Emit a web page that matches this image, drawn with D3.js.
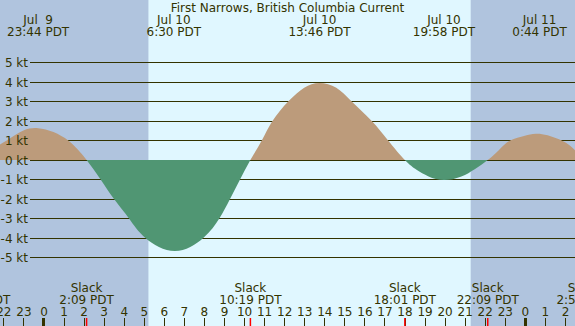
<!DOCTYPE html>
<html><head><meta charset="utf-8">
<script src="https://cdn.jsdelivr.net/npm/d3@7"></script>
<style>
html,body{margin:0;padding:0;background:#fff;}
svg{display:block;font-family:"DejaVu Sans",sans-serif;}
text{white-space:pre;}
</style></head>
<body><svg id="c" width="575" height="326"></svg>
<script>
// ---- data ----
const title = "First Narrows, British Columbia Current";
const viewStart = "Jul 09 21:50", viewEnd = "Jul 11 02:30";
const sunTimes = ["Jul 10 05:14", "Jul 10 21:18"];       // sunrise, sunset
const curveTimes = ["Jul 09 20:48","Jul 09 21:24","Jul 09 22:10","Jul 09 23:00","Jul 09 23:44",
  "Jul 10 00:30","Jul 10 01:14","Jul 10 01:42","Jul 10 02:09","Jul 10 02:51","Jul 10 03:31",
  "Jul 10 04:16","Jul 10 05:05","Jul 10 06:33","Jul 10 07:58",
  "Jul 10 08:46","Jul 10 09:18","Jul 10 09:48","Jul 10 10:19","Jul 10 10:53","Jul 10 11:25",
  "Jul 10 12:12","Jul 10 13:00","Jul 10 13:46","Jul 10 14:36","Jul 10 15:22","Jul 10 16:22",
  "Jul 10 17:11","Jul 10 18:01","Jul 10 18:36","Jul 10 19:12","Jul 10 19:58","Jul 10 20:48",
  "Jul 10 21:30","Jul 10 22:09","Jul 10 22:42","Jul 10 23:16","Jul 11 00:00","Jul 11 00:44",
  "Jul 11 01:50","Jul 11 02:30","Jul 11 02:56"];
const curveKnots = [0,0.52,1.0,1.51,1.63,
  1.43,1.0,0.55,0,-1,-2,
  -3,-4,-4.67,-4,
  -3,-2,-1,0,1,2,
  3,3.71,3.95,3.7,3,2,
  1,0,-0.5,-0.84,-1.03,-0.86,
  -0.47,0,0.5,1.0,1.25,1.34,
  1.0,0.5,0];
const peakTimes = ["Jul 09 23:44","Jul 10 06:30","Jul 10 13:46","Jul 10 19:58","Jul 11 00:44"];
const peakDayLabels = ["Jul  9","Jul 10","Jul 10","Jul 10","Jul 11"];
const peakTimeLabels = ["23:44 PDT","6:30 PDT","13:46 PDT","19:58 PDT","0:44 PDT"];
const slackTimes = ["Jul 09 20:48","Jul 10 02:09","Jul 10 10:19","Jul 10 18:01","Jul 10 22:09","Jul 11 02:56"];
const slackLabels = ["20:48 PDT","2:09 PDT","10:19 PDT","18:01 PDT","22:09 PDT","2:56 PDT"];
const knotTicks = [5,4,3,2,1,0,-1,-2,-3,-4,-5];

// ---- drawing ----
const W = 575, H = 326;
const parse = d3.timeParse("%b %d %H:%M");
const svg = d3.select("#c");
const ink = "#333300";

const x = d3.scaleTime().domain([parse(viewStart), parse(viewEnd)]).range([0, W]);
const y = d3.scaleLinear().domain([-5, 5]).range([257.5, 62.5]);

// day/night background
const sr = x(parse(sunTimes[0])), ss = x(parse(sunTimes[1]));
svg.append("rect").attr("x",0).attr("y",0).attr("width",W).attr("height",H).attr("fill","#b0c4de");
svg.append("rect").attr("x",sr).attr("y",0).attr("width",ss-sr).attr("height",H).attr("fill","#e0f7ff");

// grid lines
svg.append("g").selectAll("line").data(knotTicks).join("line")
  .attr("x1",30).attr("x2",W)
  .attr("y1",d=>Math.floor(y(d))+0.5).attr("y2",d=>Math.floor(y(d))+0.5)
  .attr("stroke",ink).attr("stroke-width",1).attr("shape-rendering","crispEdges");

// current curve
const pts = curveTimes.map((t,i)=>({t:parse(t), v:curveKnots[i]}));
const area = d3.area().x(d=>x(d.t)).y0(y(0)).y1(d=>y(d.v)).curve(d3.curveNatural);
const defs = svg.append("defs");
defs.append("clipPath").attr("id","pos").append("rect").attr("x",0).attr("y",0).attr("width",W).attr("height",y(0));
defs.append("clipPath").attr("id","neg").append("rect").attr("x",0).attr("y",y(0)).attr("width",W).attr("height",H-y(0));
svg.append("path").datum(pts).attr("d",area).attr("fill","#bc9b7b").attr("clip-path","url(#pos)");
svg.append("path").datum(pts).attr("d",area).attr("fill","#509673").attr("clip-path","url(#neg)");

// y axis labels
const yAxis = d3.axisLeft(y).tickValues(knotTicks).tickSize(0).tickPadding(2)
  .tickFormat(d=>(d<0?"-"+(-d):String(d))+" kt");
const gy = svg.append("g").attr("transform","translate(30,0)").call(yAxis);
gy.select(".domain").remove();
gy.selectAll("text").attr("fill",ink).attr("font-size",12).attr("font-family","DejaVu Sans").attr("dy","0.36em");

// title
svg.append("text").attr("x",W/2).attr("y",11.5).attr("text-anchor","middle")
  .attr("font-size",12).attr("fill",ink).text(title);

// peak labels
const gp = svg.append("g").attr("font-size",12).attr("fill",ink).attr("text-anchor","middle");
peakTimes.forEach((t,i)=>{
  const px = x(parse(t));
  gp.append("text").attr("x",px).attr("y",24).text(peakDayLabels[i]);
  gp.append("text").attr("x",px).attr("y",36).text(peakTimeLabels[i]);
});

// slack labels
const gs = svg.append("g").attr("font-size",12).attr("fill",ink).attr("text-anchor","middle");
slackTimes.forEach((t,i)=>{
  const px = x(parse(t));
  gs.append("text").attr("x",px).attr("y",292).text("Slack");
  gs.append("text").attr("x",px).attr("y",303.5).text(slackLabels[i]);
});

// hour axis
const xAxis = d3.axisTop(x).ticks(d3.timeHour.every(1)).tickSize(8).tickPadding(2)
  .tickFormat(d=>String(d.getHours()));
const gx = svg.append("g").attr("transform",`translate(0,${H})`).call(xAxis);
gx.select(".domain").remove();
gx.selectAll("text").attr("fill",ink).attr("font-size",12).attr("font-family","DejaVu Sans");
gx.selectAll(".tick line").attr("stroke",ink).attr("shape-rendering","crispEdges")
  .attr("stroke-width",d=>d.getHours()===0?3:1);

// slack tick marks
svg.append("g").selectAll("line").data(slackTimes).join("line")
  .attr("x1",d=>x(parse(d))).attr("x2",d=>x(parse(d)))
  .attr("y1",H-8).attr("y2",H).attr("stroke","#ff0000").attr("stroke-width",1.5);
</script></body></html>
